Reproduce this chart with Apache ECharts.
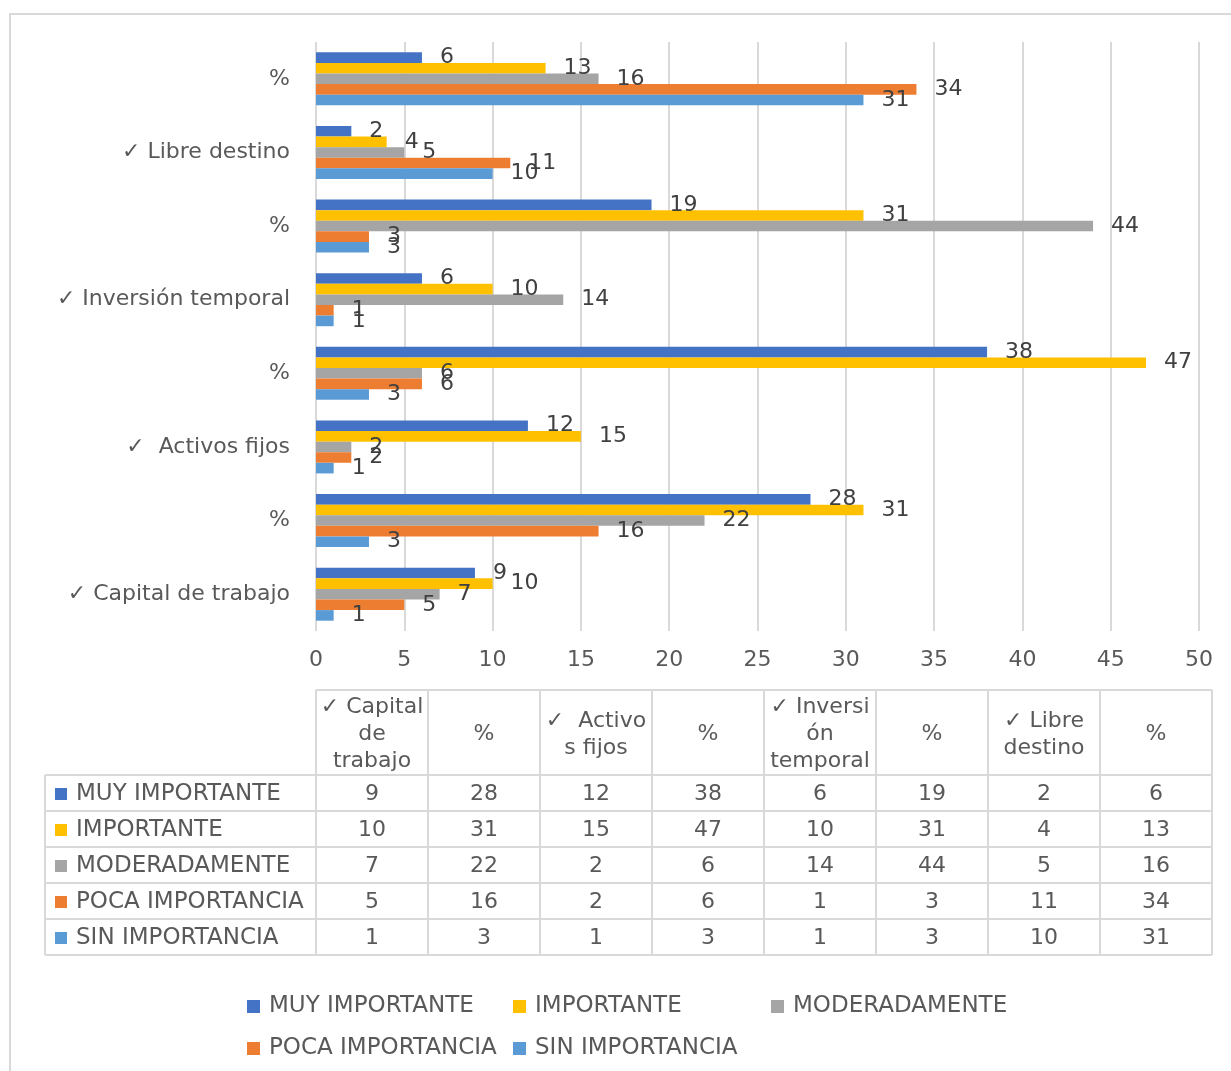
<!DOCTYPE html>
<html>
<head>
<meta charset="utf-8">
<script src="https://cdn.jsdelivr.net/npm/echarts@6/dist/echarts.min.js"></script>
<style>
  html, body { margin: 0; padding: 0; background: #fff; }
  #chart { width: 1231px; height: 1071px; }
</style>
</head>
<body>
<div id="chart"></div>
<script>
// Categories along the vertical axis (bottom to top)
const categories = ['✓ Capital de trabajo', '%', '✓  Activos fijos', '%', '✓ Inversión temporal', '%', '✓ Libre destino', '%'];
// Same categories as wrapped in the data table header
const tableHeaders = ['✓ Capital\nde\ntrabajo', '%', '✓  Activo\ns fijos', '%', '✓ Inversi\nón\ntemporal', '%', '✓ Libre\ndestino', '%'];

const seriesNames = ['MUY IMPORTANTE', 'IMPORTANTE', 'MODERADAMENTE', 'POCA IMPORTANCIA', 'SIN IMPORTANCIA'];
const muyImportante   = [9, 28, 12, 38, 6, 19, 2, 6];
const importante      = [10, 31, 15, 47, 10, 31, 4, 13];
const moderadamente   = [7, 22, 2, 6, 14, 44, 5, 16];
const pocaImportancia = [5, 16, 2, 6, 1, 3, 11, 34];
const sinImportancia  = [1, 3, 1, 3, 1, 3, 10, 31];
const seriesValues = [muyImportante, importante, moderadamente, pocaImportancia, sinImportancia];
const seriesColors = ['#4472C4', '#FFC000', '#A5A5A5', '#ED7D31', '#5B9BD5'];

// Value axis ticks
const axisMin = 0;
const axisMax = 50;
const axisStep = 5;

const FONT = '"DejaVu Sans", sans-serif';
const TEXT = '#595959';
const LINE = '#d9d9d9';
const FS = 22;      // general text size
const FS_CAPS = 23; // upper-case series names

const chart = echarts.init(document.getElementById('chart'), null, { renderer: 'canvas' });

// ---- data table under the plot ----
const tbl = {
  labelLeft: 45,
  colLeft: 316,
  colW: 112,
  headTop: 690,
  headBottom: 775,
  rowH: 36
};
const tableRight = tbl.colLeft + tbl.colW * categories.length;
const tableBottom = tbl.headBottom + tbl.rowH * seriesNames.length;
const graphics = [];

// outer chart frame
graphics.push({
  type: 'rect', shape: { x: 10, y: 14, width: 1260, height: 1100 },
  style: { fill: 'none', stroke: LINE, lineWidth: 2 }, silent: true, z: -10
});

// vertical rules of the value columns
for (let i = 0; i <= categories.length; i++) {
  const x = tbl.colLeft + i * tbl.colW;
  graphics.push({
    type: 'line', shape: { x1: x, y1: tbl.headTop, x2: x, y2: tableBottom },
    style: { stroke: LINE, lineWidth: 2 }, silent: true
  });
}
// left rule of the series-name column
graphics.push({
  type: 'line', shape: { x1: tbl.labelLeft, y1: tbl.headBottom, x2: tbl.labelLeft, y2: tableBottom },
  style: { stroke: LINE, lineWidth: 2 }, silent: true
});
// header top rule
graphics.push({
  type: 'line', shape: { x1: tbl.colLeft, y1: tbl.headTop, x2: tableRight, y2: tbl.headTop },
  style: { stroke: LINE, lineWidth: 2 }, silent: true
});
// row rules
for (let r = 0; r <= seriesNames.length; r++) {
  const y = tbl.headBottom + r * tbl.rowH;
  graphics.push({
    type: 'line', shape: { x1: tbl.labelLeft, y1: y, x2: tableRight, y2: y },
    style: { stroke: LINE, lineWidth: 2 }, silent: true
  });
}
// header texts
tableHeaders.forEach((h, i) => {
  graphics.push({
    type: 'text',
    x: tbl.colLeft + (i + 0.5) * tbl.colW,
    y: (tbl.headTop + tbl.headBottom) / 2 + 2,
    style: {
      text: h, fill: TEXT, font: FS + 'px ' + FONT, lineHeight: 27,
      align: 'center', verticalAlign: 'middle'
    },
    silent: true
  });
});
// series rows: key, name and values
seriesNames.forEach((name, r) => {
  const cy = tbl.headBottom + (r + 0.5) * tbl.rowH + 1;
  graphics.push({
    type: 'rect', shape: { x: 55, y: cy - 6, width: 12, height: 12 },
    style: { fill: seriesColors[r] }, silent: true
  });
  graphics.push({
    type: 'text', x: 76, y: cy,
    style: { text: name, fill: TEXT, font: FS_CAPS + 'px ' + FONT, align: 'left', verticalAlign: 'middle' },
    silent: true
  });
  seriesValues[r].forEach((v, i) => {
    graphics.push({
      type: 'text', x: tbl.colLeft + (i + 0.5) * tbl.colW, y: cy,
      style: { text: String(v), fill: TEXT, font: FS + 'px ' + FONT, align: 'center', verticalAlign: 'middle' },
      silent: true
    });
  });
});

// legend laid out in three fixed columns over two rows
const legendSlots = [[247, 995], [513, 995], [771, 995], [247, 1037], [513, 1037]];
const legends = seriesNames.map((name, i) => ({
  data: [name],
  left: legendSlots[i][0],
  top: legendSlots[i][1],
  padding: 0,
  icon: 'rect',
  itemWidth: 13,
  itemHeight: 13,
  textStyle: { color: TEXT, fontSize: FS_CAPS, fontFamily: FONT, padding: [0, 0, 0, 4] }
}));

const option = {
  backgroundColor: '#fff',
  animation: false,
  grid: { left: 316, right: 32, top: 42, height: 589, containLabel: false },
  xAxis: {
    type: 'value',
    min: axisMin, max: axisMax, interval: axisStep,
    axisLine: { show: false },
    axisTick: { show: false },
    axisLabel: { color: TEXT, fontSize: FS, fontFamily: FONT, margin: 18 },
    splitLine: { show: true, lineStyle: { color: LINE, width: 2 } }
  },
  yAxis: {
    type: 'category',
    data: categories,
    axisLine: { show: false },
    axisTick: { show: false },
    axisLabel: { color: TEXT, fontSize: FS, fontFamily: FONT, margin: 26 }
  },
  legend: legends,
  series: seriesNames.map((name, i) => ({
    name: name,
    type: 'bar',
    data: seriesValues[i],
    itemStyle: { color: seriesColors[i] },
    barGap: '0%',
    barCategoryGap: '28%',
    label: {
      show: true, position: 'right', distance: 18,
      color: '#404040', fontSize: FS, fontFamily: FONT
    }
  })),
  graphic: graphics
};

chart.setOption(option);
</script>
</body>
</html>
